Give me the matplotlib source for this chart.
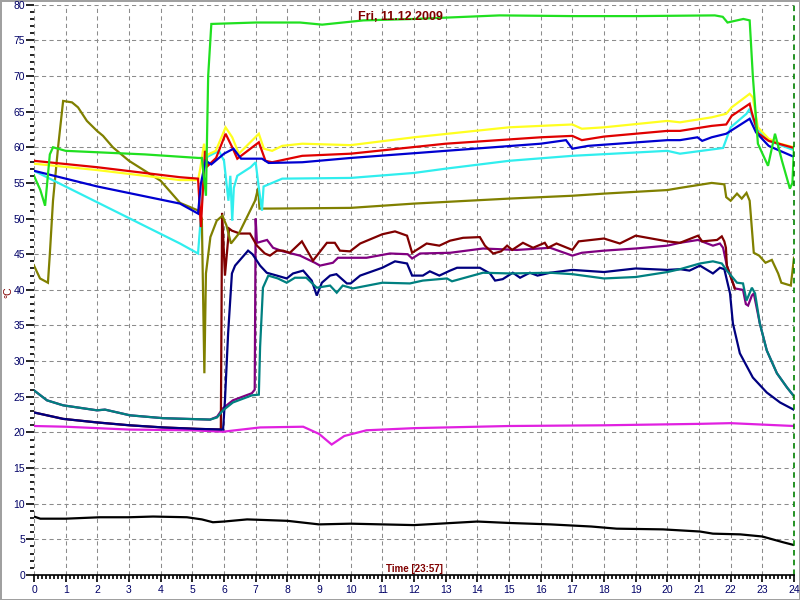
import matplotlib
matplotlib.use("Agg")
import matplotlib.pyplot as plt
from matplotlib.ticker import MultipleLocator

# readings for Fri, 11.12.2009 (hour of day, degrees C)
green_t = [0, 0.2, 0.35, 0.5, 0.6, 1.0, 2.0, 3.5, 5.2, 5.3, 5.43, 5.5, 5.6, 7, 8.4, 9.1, 10.4, 12, 14.7, 17, 19,
           21.5, 21.75, 21.9, 22.4, 22.6, 22.7, 22.86, 23.18, 23.4, 23.62, 23.87, 23.95, 24.0]
green_v = [56, 54, 51.8, 59, 60, 59.5, 59.3, 59, 58.5, 58.5, 53.2, 70, 77.3, 77.5, 77.5, 77.2, 77.8, 78, 78.5, 78.4, 78.4,
           78.5, 78.3, 77.5, 78, 77.8, 70, 60.5, 57.4, 61.9, 58.1, 54.2, 55, 60]

olive_t = [0, 0.19, 0.44, 0.5, 0.6, 0.76, 0.92, 1.2, 1.39, 1.67, 1.99, 2.18, 2.49, 3.0, 4.0, 4.61, 5.2, 5.3, 5.38,
           5.43, 5.57, 5.77, 5.95, 6.08, 6.22, 6.47, 6.98, 7.08, 7.12, 7.5, 10, 12, 15, 17, 18, 20, 20.4, 21.4, 21.8,
           21.86, 22.0, 22.2, 22.35, 22.5, 22.6, 22.73, 22.9, 23.1, 23.3, 23.5, 23.6, 23.9, 24.0]
olive_v = [43.4, 41.6, 41.0, 45, 52.5, 60, 66.5, 66.3, 65.6, 63.7, 62.3, 61.6, 60.0, 58.1, 55.3, 52.2, 51.1, 50, 28.3,
           42.3, 47.4, 49.7, 50.4, 49.0, 46.5, 47.9, 52.5, 54.3, 51.4, 51.4, 51.5, 52.1, 52.8, 53.2, 53.5, 54, 54.3, 55.0, 54.8,
           53.0, 52.5, 53.5, 52.8, 53.6, 52.5, 45.2, 44.8, 43.8, 44.2, 42.3, 41.0, 40.6, 44.5]

yellow_t = [0, 2, 4.61, 5.18, 5.25, 5.37, 5.42, 5.5, 5.74, 6.05, 6.26, 6.47, 7.1, 7.26, 7.52, 7.84, 8.47, 10, 12, 15,
            17, 17.3, 18, 20, 20.4, 21.4, 21.86, 22.03, 22.6, 22.7, 22.86, 23.2, 23.56, 24.0]
yellow_v = [57.7, 56.8, 55.4, 55.4, 57, 60.5, 58.5, 59, 59.5, 62.8, 61.4, 59.1, 61.9, 59.8, 59.5, 60.2, 60.5, 60.3, 61.4, 62.8,
            63.2, 62.6, 62.8, 63.7, 63.5, 64.2, 64.7, 65.6, 67.5, 67, 62.8, 61.2, 60.5, 60]

red_t = [0, 2, 4.61, 5.18, 5.27, 5.4, 5.49, 5.75, 6.05, 6.26, 6.42, 7.1, 7.31, 7.52, 8.47, 10, 13, 16, 17, 17.3, 18,
         20, 20.4, 21.4, 21.86, 22.03, 22.6, 22.66, 22.86, 23.2, 24.0]
red_v = [58.1, 57.2, 55.8, 55.6, 48.8, 59.5, 57.4, 58.5, 61.9, 60.0, 58.4, 60.7, 58.1, 57.9, 58.8, 59.1, 60.5, 61.4, 61.6, 61.0, 61.5,
         62.3, 62.3, 63.0, 63.2, 64.4, 66.1, 65, 62, 60.9, 59.9]

blue_t = [0, 2, 4.61, 5.18, 5.27, 5.42, 5.6, 6.0, 6.3, 6.54, 7.2, 7.41, 8.47, 10, 13, 16, 16.8, 17.0, 17.5, 20, 20.4,
          20.95, 21.1, 21.4, 21.86, 22.6, 22.8, 23.2, 23.56, 24.03]
blue_v = [56.7, 54.5, 52.1, 50.7, 54.9, 58.1, 57.6, 59.1, 59.8, 58.4, 58.4, 57.8, 57.9, 58.5, 59.5, 60.5, 61.0, 59.8, 60.2, 61.0, 61.0,
          61.4, 60.9, 61.4, 61.9, 64.0, 62.1, 60.2, 59.5, 58.6]

cyan_t = [0, 4.61, 5.18, 5.3, 5.4, 5.84, 6.0, 6.14, 6.2, 6.26, 6.31, 6.42, 6.84, 7.0, 7.1, 7.2, 7.25, 7.52, 7.84, 10,
          12, 13, 15, 17, 20, 20.4, 21.76, 22.0, 22.5, 22.6, 22.8, 23.2, 24.0]
cyan_v = [56.7, 46.5, 45.1, 52, 58.5, 59.5, 58.1, 52.5, 56, 49.7, 54.3, 56.0, 57.2, 57.9, 54.3, 51.1, 54.5, 55.0, 55.6, 55.7,
          56.4, 57.0, 58.1, 58.8, 59.5, 59.1, 59.9, 62.8, 64.7, 65.4, 62.8, 60.9, 59.6]

maroon_t = [0, 0.92, 2, 3, 4.07, 5.15, 5.9, 5.94, 6.03, 6.16, 6.25, 6.5, 6.82, 7.04, 7.29, 7.45, 7.67, 7.86, 8.08, 8.46,
            8.81, 9.25, 9.5, 9.66, 9.98, 10.3, 11.0, 11.4, 11.78, 11.94, 12.19, 12.4, 12.8, 13.14, 13.55, 14.08, 14.24,
            14.5, 14.75, 14.94, 15.1, 15.44, 15.76, 16.13, 16.23, 16.5, 17.0, 17.2, 18, 18.5, 19, 19.5, 20, 20.4, 20.97,
            21.1, 21.57, 21.72, 21.8, 21.85, 21.88, 22.13]
maroon_v = [22.8, 21.9, 21.4, 21.0, 20.7, 20.5, 20.4, 50.8, 42, 48.6, 48.3, 47.9, 47.9, 46.2, 45.1, 44.8, 45.5, 45.5, 45.2, 46.8,
            44.1, 46.6, 46.6, 45.5, 45.4, 46.5, 47.8, 48.2, 47.6, 45.2, 45.9, 46.5, 46.2, 46.9, 47.3, 47.4, 46.2,
            45.1, 45.4, 46.2, 45.6, 46.6, 45.9, 46.6, 45.9, 46.5, 45.6, 46.8, 47.2, 46.5, 47.6, 47.2, 46.8, 46.6, 47.6,
            46.8, 47.0, 47.5, 46.8, 45.9, 43.4, 40.2]

purple_t = [0, 0.41, 0.92, 1.99, 2.24, 3.03, 4.07, 5.56, 5.78, 5.97, 6.28, 6.88, 6.97, 7.0, 7.04, 7.36, 7.55, 7.86, 8.4,
            8.87, 9.03, 9.44, 9.6, 10.5, 11.24, 11.8, 11.94, 12.19, 13.14, 14.18, 15.25, 16.3, 17.0, 17.3, 18, 19, 20,
            20.4, 20.97, 21.44, 21.66, 21.76, 21.88, 22.13, 22.39, 22.48, 22.55, 22.67, 22.73, 22.92, 23.14, 23.46,
            23.78, 24.03]
purple_v = [25.9, 24.5, 23.8, 23.1, 23.2, 22.4, 22.0, 21.8, 22.2, 23.4, 24.5, 25.5, 26, 50, 46.6, 47.0, 45.9, 45.4, 44.8,
            43.8, 43.4, 43.8, 44.5, 44.5, 45.1, 45.0, 44.4, 45.1, 45.2, 45.8, 45.6, 45.9, 44.8, 45.2, 45.5, 45.8, 46.2,
            46.6, 47.0, 46.2, 46.5, 45.9, 43.4, 40.2, 40.0, 38.0, 37.8, 39.2, 39.5, 35.3, 31.5, 28.3,
            26.3, 24.9]

navy_t = [0, 0.92, 1.99, 3.03, 4.07, 5.15, 5.97, 6.03, 6.13, 6.25, 6.35, 6.76, 6.9, 7.14, 7.35, 7.67, 7.98, 8.18, 8.5,
          8.77, 8.93, 9.09, 9.35, 9.55, 9.88, 10.0, 10.3, 11.0, 11.4, 11.78, 11.94, 12.28, 12.5, 12.8, 13.14, 13.36,
          14.08, 14.4, 14.56, 14.8, 15.12, 15.35, 15.66, 15.9, 16.3, 17, 18, 19, 20, 20.4, 20.7, 21.03, 21.44, 21.66,
          21.8, 21.98, 22.07, 22.29, 22.7, 23.14, 23.56, 24.03]
navy_v = [22.8, 21.9, 21.4, 21.0, 20.7, 20.5, 20.4, 24.5, 33.9, 42.3, 43.4, 45.5, 45.0, 43.4, 42.4, 42.0, 41.6, 42.3, 42.7,
          41.3, 39.2, 41.0, 42.0, 42.2, 40.9, 40.9, 42.0, 43.1, 44.0, 43.7, 42.0, 42.0, 42.6, 42.0, 42.7, 43.1,
          43.1, 42.3, 41.3, 41.5, 42.4, 41.7, 42.4, 42.0, 42.4, 42.8, 42.5, 43.0, 42.8, 42.9, 42.7, 43.4, 42.3, 43.1,
          42.9, 39.5, 35.3, 31.1, 27.7, 25.6, 24.2, 23.1]

teal_t = [0, 0.41, 0.92, 1.99, 2.24, 3.03, 4.07, 5.56, 5.78, 5.97, 6.28, 6.88, 7.1, 7.14, 7.23, 7.4, 7.7, 7.98, 8.24,
          8.6, 8.93, 9.35, 9.56, 9.75, 10.07, 11.0, 11.87, 12.28, 13.04, 13.2, 14.18, 15.03, 16.3, 17, 18, 19, 20, 20.4,
          21.03, 21.44, 21.72, 21.88, 22.2, 22.39, 22.5, 22.67, 22.77, 22.92, 23.14, 23.46, 23.78, 24.03]
teal_v = [25.9, 24.5, 23.8, 23.1, 23.2, 22.4, 22.0, 21.8, 22.1, 23.1, 24.2, 25.2, 25.3, 32, 40.3, 42.0, 41.6, 41.0, 41.7,
          41.7, 40.3, 40.6, 39.6, 40.6, 40.2, 41.0, 40.9, 41.3, 41.6, 41.2, 42.4, 42.3, 42.4, 42.2, 41.6, 41.8, 42.5, 42.9,
          43.7, 44.0, 43.7, 42.7, 41.0, 40.9, 38.5, 40.3, 39.5, 35.3, 31.5, 28.3, 26.3, 24.9]

magenta_t = [0, 1, 3, 5, 5.97, 7.14, 8.5, 9.0, 9.4, 9.8, 10.5, 12, 15, 18, 21, 22, 23, 24]
magenta_v = [20.9, 20.8, 20.4, 20.3, 20.1, 20.7, 20.8, 19.8, 18.3, 19.5, 20.3, 20.6, 20.9, 21.0, 21.2, 21.3, 21.1, 20.9]

black_t = [0, 0.2, 1, 2.08, 3, 3.76, 4.83, 5.3, 5.65, 6, 6.73, 8, 9, 10, 12, 14, 15, 16.3, 17.6, 18.4, 19.86, 21.03,
           21.44, 22.3, 23.0, 23.65, 24.0]
black_v = [8.2, 7.9, 7.9, 8.1, 8.1, 8.2, 8.1, 7.8, 7.4, 7.5, 7.8, 7.6, 7.1, 7.2, 7.0, 7.5, 7.3, 7.1, 6.8, 6.5, 6.4, 6.1,
           5.8, 5.7, 5.4, 4.6, 4.2]

title = "Fri, 11.12.2009"
x_label = "Time [23:57]"
y_label = "°C"

# drawing order, bottom first
series = [
    (purple_t, purple_v, "#800080"),
    (maroon_t, maroon_v, "#800000"),
    (magenta_t, magenta_v, "#e020e0"),
    (olive_t, olive_v, "#808000"),
    (cyan_t, cyan_v, "#30eeee"),
    (yellow_t, yellow_v, "#ffff20"),
    (red_t, red_v, "#e00000"),
    (blue_t, blue_v, "#0000d0"),
    (navy_t, navy_v, "#000080"),
    (teal_t, teal_v, "#008080"),
    (black_t, black_v, "#000000"),
    (green_t, green_v, "#20e020"),
]

plt.rcParams["font.family"] = ["Liberation Sans", "DejaVu Sans"]
plt.rcParams["lines.scale_dashes"] = False

fig = plt.figure(figsize=(8, 6), dpi=100)
fig.patch.set_edgecolor("#a0a0a0")
fig.patch.set_linewidth(2)
ax = fig.add_axes([34 / 800, 25 / 600, 760 / 800, 570.3 / 600])

for t, v, c in series:
    ax.plot(t, v, color=c, linewidth=1.6, solid_joinstyle="miter")

ax.set_xlim(0, 24)
ax.set_ylim(0, 80)
ax.xaxis.set_major_locator(MultipleLocator(1))
ax.xaxis.set_minor_locator(MultipleLocator(1 / 8))
ax.yaxis.set_major_locator(MultipleLocator(5))
ax.yaxis.set_minor_locator(MultipleLocator(1))

ax.grid(True, which="major", color="#8c8c8c", linestyle=(0, (3, 2.4)), linewidth=0.75)
fig.canvas.draw()
for gl in (ax.get_xgridlines()[0], ax.get_xgridlines()[-1], ax.get_ygridlines()[0], ax.get_ygridlines()[-1]):
    gl.set_visible(False)

for side in ("left", "top", "right"):
    ax.spines[side].set_visible(False)
ax.spines["bottom"].set_linewidth(1.2)

ax.tick_params(axis="y", which="major", length=5.5, width=1.2, pad=1, labelsize=7.5, labelcolor="#000066")
ax.tick_params(axis="y", which="minor", length=3, width=1.2)
ax.tick_params(axis="x", which="major", length=5, width=1.2, pad=2, labelsize=7.5, labelcolor="#000066")
ax.tick_params(axis="x", which="minor", length=3, width=1.2)

ax.axvline(24, color="#008000", linestyle=(0, (4, 3)), linewidth=1.2, clip_on=False)

fig.text(400 / 800, 1 - 17 / 600, title, ha="center", va="center", color="#800000",
         fontsize=9, fontweight="bold")
fig.text(414 / 800, 1 - 569 / 600, x_label, ha="center", va="center", color="#800000",
         fontsize=7, fontweight="bold")
fig.text(8 / 800, 1 - 292 / 600, y_label, ha="center", va="center", color="#800000",
         fontsize=7.5, rotation=90)

fig.savefig("out.png", dpi=100)
